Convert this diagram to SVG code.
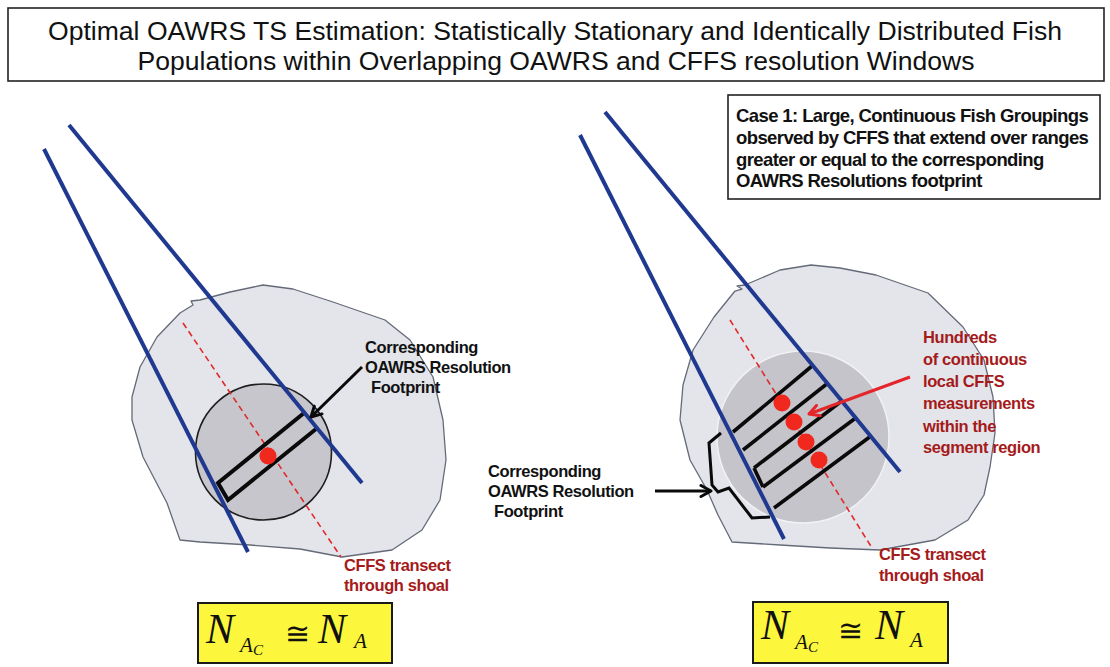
<svg xmlns="http://www.w3.org/2000/svg" width="1110" height="667" viewBox="0 0 1110 667">
<defs>
<style>
.box{fill:#fff;stroke:#222;stroke-width:1.6}
.shoal{fill:#e3e5eb;stroke:#656a78;stroke-width:1.3;stroke-linejoin:round}
.beam{stroke:#1f3990;stroke-width:4;fill:none;stroke-linecap:butt}
.seg{stroke:#0a0a0a;stroke-width:4;fill:none}
.transect{stroke:#e02a2a;stroke-width:1.6;stroke-dasharray:6 4;fill:none}
.dot{fill:#f0281e}
.lbl{font-family:"Liberation Sans",Arial,sans-serif;font-weight:bold;font-size:16.5px;fill:#111;letter-spacing:-0.4px}
.red{fill:#a51a1a}
.case{font-family:"Liberation Sans",Arial,sans-serif;font-weight:bold;font-size:18.5px;fill:#111;letter-spacing:-0.6px}
.title{font-family:"Liberation Sans",Arial,sans-serif;font-size:25px;fill:#111}
.eqbox{fill:#fcf73c;stroke:#1a1a1a;stroke-width:2}
.eq{font-family:"Liberation Serif","Times New Roman",serif;font-style:italic;fill:#111}
.cong{font-family:"DejaVu Serif","Liberation Serif",serif;fill:#111}
</style>
<marker id="ahk" viewBox="0 0 14 14" refX="12" refY="7" markerWidth="14" markerHeight="14" orient="auto" markerUnits="userSpaceOnUse">
<path d="M2,1.5 L12,7 L2,12.5" fill="none" stroke="#0a0a0a" stroke-width="3" stroke-linecap="round" stroke-linejoin="round"/>
</marker>
<marker id="ahr" viewBox="0 0 14 14" refX="12" refY="7" markerWidth="14" markerHeight="14" orient="auto" markerUnits="userSpaceOnUse">
<path d="M2,1.5 L12,7 L2,12.5" fill="none" stroke="#e4262a" stroke-width="3" stroke-linecap="round" stroke-linejoin="round"/>
</marker>
</defs>
<rect width="1110" height="667" fill="#fff"/>

<g id="title">
<rect class="box" x="8" y="8" width="1096" height="73"/>
<text class="title" x="555" y="40" text-anchor="middle" textLength="1014" lengthAdjust="spacingAndGlyphs">Optimal OAWRS TS Estimation: Statistically Stationary and Identically Distributed Fish</text>
<text class="title" x="556" y="70" text-anchor="middle" textLength="837" lengthAdjust="spacingAndGlyphs">Populations within Overlapping OAWRS and CFFS resolution Windows</text>
</g>

<g id="case-note">
<rect class="box" x="728" y="95" width="372" height="104"/>
<text class="case" x="736" y="122">Case 1: Large, Continuous Fish Groupings</text>
<text class="case" x="736" y="144">observed by CFFS that extend over ranges</text>
<text class="case" x="736" y="166">greater or equal to the corresponding</text>
<text class="case" x="736" y="187">OAWRS Resolutions footprint</text>
</g>

<g id="left-shoal">
<path class="shoal" d="M200,300 L230,292 L263,285 L293,289 L333,302 L385,320 L410,340 L433,377 L443,420 L446,460 L440,500 L422,530 L392,550 L342,557 L300,549 L250,545 L200,542 L180,540 L167,503 L143,457 L132,420 L132,397 L140,367 L157,337 L180,313 L193,305 L191,301 Z"/>
<circle cx="263.5" cy="452" r="68" fill="#c7c6cc" stroke="#1e1e1e" stroke-width="1.6"/>
<line class="transect" x1="183" y1="323" x2="341" y2="557"/>
<path class="seg" d="M304,413 L218,483 L228,500 L316,429"/>
<circle class="dot" cx="268" cy="456" r="8.5"/>
</g>

<g id="right-shoal">
<path class="shoal" d="M745,285 L780,270 L811,265 L840,268 L876,275 L928,293 L963,327 L984,360 L993,397 L995,433 L990,467 L984,495 L968,520 L935,540 L880,550 L830,548 L780,545 L732,542 L718,515 L707,490 L690,460 L680,420 L683,385 L693,350 L714,317 L735,291 L742,289 L737,286 Z"/>
<circle cx="803" cy="437" r="86" fill="#c5c4ca" stroke="#f2f2f4" stroke-width="1.5"/>
<line class="transect" x1="730" y1="320" x2="872" y2="548"/>
<g class="seg" style="stroke-width:3.6">
<line x1="733" y1="432" x2="812" y2="366"/>
<line x1="743" y1="450" x2="828" y2="383"/>
<line x1="754" y1="468" x2="843" y2="400"/>
<line x1="763" y1="487" x2="857" y2="417"/>
<line x1="774" y1="508" x2="871" y2="436"/>
<line x1="754" y1="468" x2="763" y2="487"/>
</g>
<circle class="dot" cx="782" cy="403" r="8.5"/>
<circle class="dot" cx="794" cy="422" r="8.5"/>
<circle class="dot" cx="806" cy="442" r="8.5"/>
<circle class="dot" cx="819" cy="460" r="8.5"/>
<path d="M721,433 L709,443 L712,485 L718,492 L729,488 L752,518 L770,517" fill="none" stroke="#0a0a0a" stroke-width="3" stroke-linejoin="miter"/>
</g>

<g id="beams">
<line class="beam" x1="44" y1="149" x2="248" y2="552"/>
<line class="beam" x1="69" y1="125" x2="362" y2="483"/>
<line class="beam" x1="580" y1="135" x2="784" y2="539"/>
<line class="beam" x1="605" y1="112" x2="900" y2="472"/>
</g>

<g id="connectors">
<line x1="362" y1="367" x2="311" y2="417" stroke="#0a0a0a" stroke-width="3" marker-end="url(#ahk)"/>
<line x1="655" y1="491" x2="711" y2="491" stroke="#0a0a0a" stroke-width="3.2" marker-end="url(#ahk)"/>
<line x1="910" y1="377" x2="809" y2="414" stroke="#e4262a" stroke-width="3" marker-end="url(#ahr)"/>
</g>

<g id="label-left-footprint">
<text class="lbl" x="365" y="353">Corresponding</text>
<text class="lbl" x="365" y="373">OAWRS Resolution</text>
<text class="lbl" x="371" y="393">Footprint</text>
</g>

<g id="label-right-footprint">
<text class="lbl" x="488" y="477">Corresponding</text>
<text class="lbl" x="488" y="497">OAWRS Resolution</text>
<text class="lbl" x="494" y="517">Footprint</text>
</g>

<g id="label-left-transect">
<text class="lbl red" x="344" y="571">CFFS transect</text>
<text class="lbl red" x="344" y="591">through shoal</text>
</g>

<g id="label-right-transect">
<text class="lbl red" x="879" y="560">CFFS transect</text>
<text class="lbl red" x="879" y="581">through shoal</text>
</g>

<g id="label-measurements">
<text class="lbl red" x="923" y="343">Hundreds</text>
<text class="lbl red" x="923" y="365">of continuous</text>
<text class="lbl red" x="923" y="387">local CFFS</text>
<text class="lbl red" x="923" y="409">measurements</text>
<text class="lbl red" x="923" y="432">within the</text>
<text class="lbl red" x="923" y="453">segment region</text>
</g>

<g id="eq-left">
<rect class="eqbox" x="198" y="603" width="194" height="60"/>
<text class="eq" x="206" y="643" font-size="42">N</text>
<text class="eq" x="240" y="652" font-size="21">A</text>
<text class="eq" x="253" y="655" font-size="15">C</text>
<text class="cong" x="285" y="644" font-size="30">≅</text>
<text class="eq" x="318" y="643" font-size="42">N</text>
<text class="eq" x="354" y="648" font-size="21">A</text>
</g>

<g id="eq-right">
<rect class="eqbox" x="753" y="602" width="195" height="61"/>
<text class="eq" x="761" y="639" font-size="42">N</text>
<text class="eq" x="795" y="649" font-size="21">A</text>
<text class="eq" x="808" y="652" font-size="15">C</text>
<text class="cong" x="838" y="641" font-size="30">≅</text>
<text class="eq" x="875" y="639" font-size="42">N</text>
<text class="eq" x="910" y="647" font-size="21">A</text>
</g>
</svg>
